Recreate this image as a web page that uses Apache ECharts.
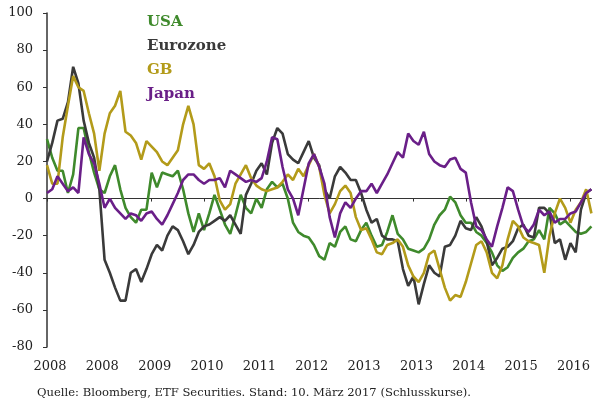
<!DOCTYPE html>
<html>
<head>
<meta charset="utf-8">
<script src="https://cdn.jsdelivr.net/npm/echarts@6/dist/echarts.min.js"></script>
<style>
html,body{margin:0;padding:0;background:#fff;}
#chart{width:593px;height:405px;}
</style>
</head>
<body>
<div id="chart"></div>
<script>
// Monthly categories Jan 2008 .. Sep 2016
const categories = [];
for (let y = 2008; y <= 2016; y++) {
  for (let m = 1; m <= 12; m++) {
    if (y === 2016 && m > 9) break;
    categories.push(y + '-' + (m < 10 ? '0' + m : m));
  }
}

const seriesNames = ['USA', 'Eurozone', 'GB', 'Japan'];
const seriesColors = ['#3f8a2c', '#3a3a3a', '#b39b1a', '#6a1f88'];

const usa = [32,22,15,15,3,13,38,38,25,14,5,3,12,18,5,-5,-10,-13,-6,-6,
  14,6,14,13,12,15,5,-8,-18,-8,-17,-8,2,-6,-14,-19,-9,2,-5,-8,
  0,-5,5,9,6,8,0,-13,-18,-20,-21,-25,-31,-33,-24,-26,-18,-15,-22,-23,
  -17,-13,-20,-26,-25,-18,-9,-19,-22,-27,-28,-29,-27,-22,-14,-9,-6,1,-2,-9,
  -13,-13,-18,-20,-24,-29,-36,-39,-37,-32,-29,-27,-23,-22,-17,-22,-5,-8,-14,-12,
  -15,-18,-19,-18,-15];

const eurozone = [20,30,42,43,52,71,62,42,30,22,5,-33,-40,-48,-55,-55,-40,-38,-45,-38,
  -30,-25,-28,-20,-15,-17,-23,-30,-25,-18,-15,-14,-12,-10,-12,-9,-14,-19,2,8,
  15,19,13,30,38,35,24,21,19,25,31,22,18,5,0,12,17,14,10,10,
  3,-6,-13,-11,-20,-22,-22,-23,-38,-47,-42,-57,-46,-36,-40,-42,-26,-25,-20,-12,
  -16,-17,-10,-15,-23,-36,-32,-27,-26,-23,-16,-14,-20,-21,-5,-5,-8,-24,-22,-33,
  -24,-29,-6,3,5];

const gb = [18,8,8,33,50,66,60,58,46,35,15,35,46,50,58,36,34,30,21,31,
  28,25,20,18,22,26,40,50,40,18,16,19,12,-1,-6,-3,8,13,18,11,
  7,5,4,5,6,9,13,10,16,12,18,24,17,2,-8,-3,4,7,3,-10,
  -17,-16,-22,-29,-30,-25,-24,-22,-26,-36,-42,-45,-40,-30,-28,-38,-48,-55,-52,-53,
  -45,-35,-25,-23,-29,-40,-43,-36,-22,-12,-15,-21,-23,-24,-25,-40,-20,-8,0,-5,
  -13,-6,-2,5,-8];

const japan = [3,5,12,8,4,6,3,33,24,19,8,-5,0,-5,-8,-11,-8,-9,-12,-8,
  -7,-11,-14,-9,-3,3,10,13,13,10,8,10,10,11,6,15,13,11,9,10,
  9,11,20,33,32,17,5,0,-9,5,19,24,17,8,-10,-21,-8,-2,-5,0,
  4,4,8,3,8,13,19,25,22,35,31,29,36,24,20,18,17,21,22,16,
  14,-2,-15,-17,-22,-26,-15,-5,6,4,-6,-15,-18,-14,-6,-9,-7,-13,-11,-11,
  -8,-7,-2,3,5];

const yTicks = [-80, -60, -40, -20, 0, 20, 40, 60, 80, 100];
const sourceText = 'Quelle: Bloomberg, ETF Securities. Stand: 10. März 2017 (Schlusskurse).';

const serif = 'DejaVu Serif';
const dataSets = [usa, eurozone, gb, japan];

const chart = echarts.init(document.getElementById('chart'), null, {renderer: 'canvas'});
chart.setOption({
  animation: false,
  backgroundColor: '#ffffff',
  grid: {left: 47, right: 0, top: 13, bottom: 58, containLabel: false},
  title: {
    text: sourceText,
    left: 37, top: 387, padding: 0,
    textStyle: {fontFamily: serif, fontSize: 11.6, fontWeight: 'normal', color: '#222'}
  },
  legend: {
    orient: 'vertical',
    left: 137, top: 9,
    itemWidth: 0, itemHeight: 0,
    itemGap: 8,
    icon: 'none',
    selectedMode: false,
    data: seriesNames.map((n, i) => ({name: n, textStyle: {color: seriesColors[i]}})),
    textStyle: {fontFamily: serif, fontSize: 15, fontWeight: 'bold', lineHeight: 16}
  },
  xAxis: [
    {
      type: 'category', data: categories, boundaryGap: false, position: 'bottom',
      axisLine: {show: false, onZero: false},
      axisTick: {show: false},
      axisLabel: {
        interval: 9, margin: 13, padding: [0, 0, 0, 6],
        fontFamily: serif, fontSize: 13, color: '#222',
        formatter: v => v.slice(0, 4)
      },
      splitLine: {show: false}
    },
    {
      type: 'category', data: categories, boundaryGap: false, position: 'bottom',
      axisLine: {show: true, onZero: true, lineStyle: {color: '#333', width: 1}},
      axisTick: {show: true, interval: 9, length: 3, lineStyle: {color: '#333'}},
      axisLabel: {show: false},
      splitLine: {show: false}
    }
  ],
  yAxis: {
    type: 'value', min: -80, max: 100, interval: 20,
    axisLine: {show: true, lineStyle: {color: '#333', width: 1.5}},
    axisTick: {show: true, length: 4, lineStyle: {color: '#333'}},
    axisLabel: {margin: 14, fontFamily: serif, fontSize: 13, color: '#222',
      formatter: v => (yTicks.indexOf(v) >= 0 ? String(v) : '')},
    splitLine: {show: false}
  },
  series: seriesNames.map((n, i) => ({
    name: n, type: 'line', data: dataSets[i],
    xAxisIndex: 0,
    symbol: 'none', smooth: false,
    lineStyle: {color: seriesColors[i], width: 2.6},
    itemStyle: {color: seriesColors[i]},
    z: 2 + i
  }))
});
</script>
</body>
</html>
